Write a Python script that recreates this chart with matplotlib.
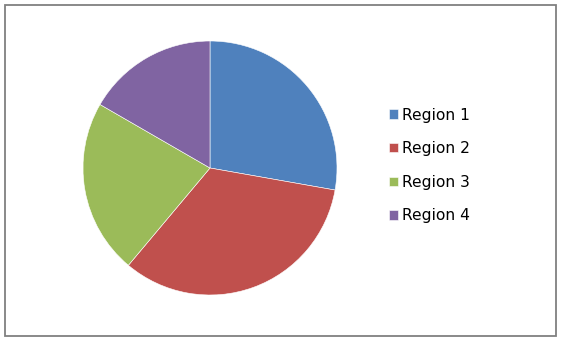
import matplotlib.pyplot as plt
from matplotlib.patches import Rectangle

regions = ["Region 1", "Region 2", "Region 3", "Region 4"]
values = [25, 30, 20, 15]
colors = ["#4F81BD", "#C0504D", "#9BBB59", "#8064A2"]

W, H = 561, 344
fig = plt.figure(figsize=(W / 100, H / 100), dpi=100)

# outer chart border
fig.patches.append(Rectangle((5 / W, 1 - 336 / H), 551 / W, 331 / H,
                             transform=fig.transFigure, fill=False,
                             edgecolor="#808080", linewidth=1.3))

# pie centred at (210, 168) px, radius ~127 px
cx, cy, r = 210, 168, 127
ax = fig.add_axes([(cx - r) / W, (H - cy - r) / H, 2 * r / W, 2 * r / H])
wedges, _ = ax.pie(values, colors=colors, startangle=90, counterclock=False,
                   wedgeprops=dict(edgecolor="white", linewidth=0.4))
ax.set_xlim(-1, 1)
ax.set_ylim(-1, 1)
ax.set_aspect("equal")

fig.legend(wedges, regions, loc="center left",
           bbox_to_anchor=(375 / W, 1 - 165.5 / H),
           frameon=False, fontsize=11.2, handlelength=0.56, handleheight=0.56,
           handletextpad=0.26, labelspacing=1.19)

fig.savefig("out.png", dpi=100)
